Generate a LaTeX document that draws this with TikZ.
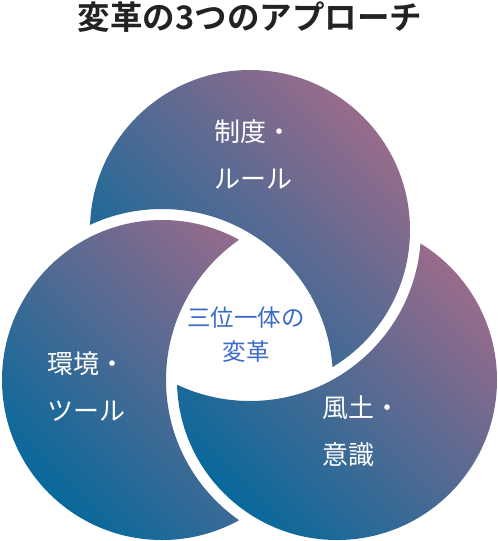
\documentclass[tikz,border=0pt]{standalone}
\usepackage{fontspec}
\newfontfamily\jpfont{Noto Sans CJK JP}
\newfontfamily\jpboldfont{Noto Sans CJK JP Bold}
\definecolor{ringblue}{HTML}{08699B}
\definecolor{ringmauve}{HTML}{986B8B}
\definecolor{coreblue}{HTML}{3C6CC8}
\definecolor{titlegray}{HTML}{222222}
\tikzset{
  ring/.style={top color=ringmauve, bottom color=ringblue, shading angle=-45},
  ringlabel/.style={text=white, anchor=west, align=left, inner sep=0pt,
    font=\jpfont\fontsize{26}{47}\selectfont},
}
\begin{document}
\begin{tikzpicture}[x=1pt, y=-1pt]
	\useasboundingbox (0,0) rectangle (498,541);
	
	\coordinate (top) at (250, 230);
	\coordinate (left) at (162, 380);
	\coordinate (right) at (337, 380);
	
	% each circle loses the part under the next one (plus a white gap)
	\begin{scope}[even odd rule]
		\clip (520, -20) rectangle (-20, 560) (left) circle[radius=171pt];
		\shade[ring] (top) circle[radius=160pt];
	\end{scope}
	\begin{scope}[even odd rule]
		\clip (520, -20) rectangle (-20, 560) (right) circle[radius=171pt];
		\shade[ring] (left) circle[radius=160pt];
	\end{scope}
	\begin{scope}[even odd rule]
		\clip (520, -20) rectangle (-20, 560) (top) circle[radius=171pt];
		\shade[ring] (right) circle[radius=160pt];
	\end{scope}
	
	\node[font=\jpboldfont\fontsize{32.5}{38}\selectfont, text=titlegray] (title) at (250, 17) {変革の3つのアプローチ};
	
	\node[ringlabel] (rules) at (214, 154) {制度・\\ルール};
	\node[ringlabel] (tools) at (47, 387) {環境・\\ツール};
	\node[ringlabel] (culture) at (322, 431) {風土・\\意識};
	
	\node[text=coreblue, align=center, inner sep=0pt,
		font=\jpfont\fontsize{23.5}{34}\selectfont] (core) at (246, 335) {三位一体の\\変革};
\end{tikzpicture}
\end{document}
